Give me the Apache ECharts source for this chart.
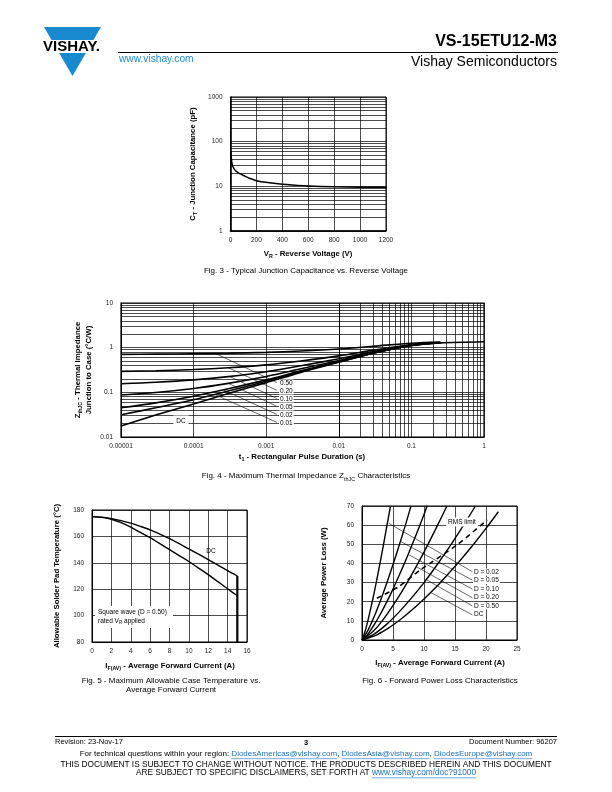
<!DOCTYPE html>
<html><head><meta charset="utf-8">
<style>html,body{margin:0;padding:0;background:#fff}#c{width:612px;height:792px}</style>
<script src="https://cdn.jsdelivr.net/npm/echarts@6/dist/echarts.min.js"></script>
</head><body><div id="c"></div>
<script>
// ---------------- DATA ----------------
// Fig. 3 - Junction capacitance vs reverse voltage
const fig3Voltage = [3, 5, 8, 12, 20, 30, 50, 75, 100, 150, 200, 300, 400, 500, 600, 800, 1000, 1200];
const fig3Capacitance = [62, 48, 38, 32, 27, 24, 21, 19, 17.5, 15, 13.4, 12, 11.1, 10.6, 10.2, 9.8, 9.6, 9.5];
const fig3XTicks = ['0', '200', '400', '600', '800', '1000', '1200'];
const fig3YTicks = ['1', '10', '100', '1000'];

// Fig. 4 - Thermal impedance
const fig4Time = [1e-5, 3e-5, 1e-4, 3e-4, 1e-3, 3e-3, 1e-2, 3e-2, 0.1, 0.25];
const fig4Z_050 = [0.709, 0.716, 0.728, 0.747, 0.783, 0.84, 0.935, 1.075, 1.26, 1.34];
const fig4Z_020 = [0.294, 0.305, 0.324, 0.355, 0.412, 0.504, 0.656, 0.88, 1.176, 1.304];
const fig4Z_010 = [0.156, 0.168, 0.19, 0.225, 0.289, 0.392, 0.563, 0.815, 1.148, 1.292];
const fig4Z_005 = [0.087, 0.099, 0.122, 0.159, 0.227, 0.336, 0.517, 0.783, 1.134, 1.286];
const fig4Z_002 = [0.045, 0.058, 0.082, 0.120, 0.190, 0.302, 0.489, 0.763, 1.126, 1.282];
const fig4Z_001 = [0.0315, 0.045, 0.068, 0.107, 0.177, 0.291, 0.479, 0.757, 1.123, 1.281];
const fig4TimeDC = [1e-5, 3e-5, 1e-4, 3e-4, 1e-3, 3e-3, 1e-2, 3e-2, 0.1, 0.25, 1];
const fig4Z_DC = [0.0177, 0.031, 0.055, 0.094, 0.165, 0.28, 0.47, 0.75, 1.12, 1.28, 1.36];
const fig4CurveLabels = ['0.50', '0.20', '0.10', '0.05', '0.02', '0.01'];
const fig4LeaderStart = [[2.0e-4, 0.74], [3.0e-4, 0.355], [3.1e-4, 0.228], [3.0e-4, 0.159], [2.6e-4, 0.113], [2.0e-4, 0.088]];
const fig4LeaderEnd = [[1.4e-3, 0.167], [1.4e-3, 0.111], [1.4e-3, 0.073], [1.4e-3, 0.0486], [1.4e-3, 0.032], [1.4e-3, 0.0213]];
const fig4XTicks = ['0.00001', '0.0001', '0.001', '0.01', '0.1', '1'];
const fig4YTicks = ['0.01', '0.1', '1', '10'];

// Fig. 5 - Allowable solder pad temperature
const fig5Current = [0, 1, 2, 3, 4, 5, 6, 7, 8, 9, 10, 11, 12, 13, 14, 15];
const fig5DC = [175, 174.6, 173.5, 172, 170, 167.6, 165, 161.8, 158.3, 154.5, 150.5, 146.5, 142.4, 138.2, 134, 130];
const fig5Square = [175, 174.4, 173, 170.5, 167, 163, 159, 154.5, 150, 145.5, 141, 136, 131, 125.7, 120.3, 115];
const fig5DropCurrent = [15, 15];
const fig5DropTemp = [130, 80];

// Fig. 6 - Forward power loss
const fig6I_002 = [0, 0.5, 1, 1.5, 2, 2.5, 3, 3.5, 4, 4.6];
const fig6P_002 = [0, 4.6, 10.8, 17.8, 25.3, 33.3, 41.7, 50.4, 59.4, 70];
const fig6I_005 = [0, 1, 2, 3, 4, 5, 6, 7, 7.9];
const fig6P_005 = [0, 5.3, 12.5, 20.8, 29.8, 39.4, 49.5, 60, 70];
const fig6I_010 = [0, 1, 2, 3, 4, 5, 6, 7, 8, 9, 10, 10.5];
const fig6P_010 = [0, 3.3, 8.1, 13.7, 19.9, 26.6, 33.8, 41.3, 49.1, 57.2, 65.6, 70];
const fig6I_020 = [0, 2, 4, 6, 8, 10, 12, 13.7];
const fig6P_020 = [0, 5.2, 13.3, 23, 34, 45.9, 58.7, 70];
const fig6I_050 = [0, 2, 4, 6, 8, 10, 12, 14, 16, 18.3];
const fig6P_050 = [0, 3.2, 8.3, 14.7, 22, 30, 38.8, 48.1, 58, 70];
const fig6I_DC = [0, 2, 4, 6, 8, 10, 12, 14, 16, 18, 20, 22];
const fig6P_DC = [0, 2.1, 5.7, 10.2, 15.5, 21.4, 27.8, 34.9, 42.2, 50, 58.3, 67];
const fig6RmsI = [2.4, 5.9, 9.4, 15.3, 20.2];
const fig6RmsP = [21.8, 27.8, 36.6, 49.6, 62.7];
const fig6CurveLabels = ['D = 0.02', 'D = 0.05', 'D = 0.10', 'D = 0.20', 'D = 0.50', 'DC'];
const fig6LeaderStart = [[4.3, 61], [6.2, 51.5], [7.5, 44.6], [8.75, 38.3], [10.4, 31.5], [11.1, 24.8]];
const fig6LeaderEnd = [[17.8, 35.7], [17.8, 31.3], [17.8, 26.6], [17.8, 22.1], [17.8, 17.8], [17.8, 13.1]];

// ---------------- CHART ----------------
const FONT = '"Liberation Sans", Arial, Helvetica, sans-serif';
const BLUE = '#1a8ad0';
const LINK = '#1a6fc4';
const chart = echarts.init(document.getElementById('c'), null, {renderer: 'canvas'});

function pairs(xs, ys) { return xs.map((x, i) => [x, ys[i]]); }
function logMinor(decades, key) {
  const out = [];
  decades.forEach(d => { for (let m = 2; m <= 9; m++) { const o = {}; o[key] = m * d; out.push(o); } });
  return out;
}
function gridLines(list) {
  return {silent: true, symbol: ['none', 'none'], animation: false, z: 1,
    label: {show: false}, emphasis: {disabled: true},
    lineStyle: {color: '#000', width: 0.7, type: 'solid', opacity: 1}, data: list};
}
function axis(gi, type, min, max, extra, labelOpt) {
  const a = {gridIndex: gi, type: type, min: min, max: max,
    axisTick: {show: false},
    axisLine: {show: true, onZero: false, lineStyle: {color: '#000', width: 1}},
    splitLine: {show: true, lineStyle: {color: '#000', width: 0.7}},
    axisLabel: Object.assign({fontFamily: FONT, fontSize: 6.5, color: '#222', margin: 6}, labelOpt || {})};
  if (type === 'log') a.logBase = 10;
  return Object.assign(a, extra || {});
}
function curve(xi, data, w, extra) {
  return Object.assign({type: 'line', xAxisIndex: xi, yAxisIndex: xi, data: data, showSymbol: false,
    symbol: 'none', z: 10, silent: true, animation: false,
    lineStyle: {color: '#000', width: w || 1.4}}, extra || {});
}
function leader(xi, a, b) {
  return {type: 'line', xAxisIndex: xi, yAxisIndex: xi, data: [a, b], showSymbol: false, symbol: 'none',
    z: 9, silent: true, animation: false, lineStyle: {color: '#000', width: 0.6}};
}
const logIdx = (v, off) => Math.round(Math.log10(v)) + off;

const series = [];
// Fig 3
series.push(curve(0, pairs(fig3Voltage, fig3Capacitance), 1.5,
  {smooth: 0.35, markLine: gridLines(logMinor([1, 10, 100], 'yAxis'))}));
// Fig 4
const f4 = [fig4Z_050, fig4Z_020, fig4Z_010, fig4Z_005, fig4Z_002, fig4Z_001];
f4.forEach((z, i) => {
  const ex = {smooth: 0.3};
  if (i === 0) ex.markLine = gridLines(logMinor([1e-5, 1e-4, 1e-3, 1e-2, 0.1], 'xAxis').concat(logMinor([0.01, 0.1, 1], 'yAxis')));
  series.push(curve(1, pairs(fig4Time, z), 1.6, ex));
});
series.push(curve(1, pairs(fig4TimeDC, fig4Z_DC), 1.6, {smooth: 0.3}));
fig4LeaderStart.forEach((s, i) => series.push(leader(1, s, fig4LeaderEnd[i])));
// Fig 5
series.push(curve(2, pairs(fig5Current, fig5DC), 1.4, {smooth: 0.3}));
series.push(curve(2, pairs(fig5Current, fig5Square), 1.4, {smooth: 0.3}));
series.push(curve(2, pairs(fig5DropCurrent, fig5DropTemp), 2.2));
// Fig 6
[[fig6I_002, fig6P_002], [fig6I_005, fig6P_005], [fig6I_010, fig6P_010], [fig6I_020, fig6P_020],
 [fig6I_050, fig6P_050], [fig6I_DC, fig6P_DC]].forEach(c => series.push(curve(3, pairs(c[0], c[1]), 1.4, {smooth: 0.3})));
series.push(curve(3, pairs(fig6RmsI, fig6RmsP), 1.6, {smooth: 0.2, lineStyle: {color: '#000', width: 1.6, type: [5, 4]}}));
fig6LeaderStart.forEach((s, i) => series.push(leader(3, s, fig6LeaderEnd[i])));

// ---------------- GRAPHICS (text, logo, lines) ----------------
const G = [];
function T(x, y, text, o) {
  o = o || {};
  const st = {text: text, x: 0, y: 0, fill: o.fill || '#000',
    font: (o.weight || 'normal') + ' ' + (o.size || 7) + 'px ' + FONT,
    fontFamily: FONT, fontSize: o.size || 7, fontWeight: o.weight || 'normal',
    align: o.align || 'center', verticalAlign: o.valign || 'middle',
    textAlign: o.align || 'center', textVerticalAlign: o.valign || 'middle'};
  if (o.rich) st.rich = o.rich;
  if (o.bg) { st.backgroundColor = o.bg; st.padding = o.pad || [1, 2]; }
  if (o.lineHeight) st.lineHeight = o.lineHeight;
  G.push({type: 'text', x: x, y: y, rotation: o.rot || 0, z: o.z || 100, silent: true, style: st});
}
function L(x1, y1, x2, y2, w, c) {
  G.push({type: 'line', z: 100, silent: true, shape: {x1: x1, y1: y1, x2: x2, y2: y2}, style: {stroke: c || '#000', lineWidth: w || 1}});
}
function subRich(size, weight) {
  return {
    b: {fontFamily: FONT, fontSize: size, fontWeight: weight, lineHeight: size + 3, verticalAlign: 'middle'},
    s: {fontFamily: FONT, fontSize: size * 0.68, fontWeight: weight, lineHeight: size + 3, verticalAlign: 'bottom'}
  };
}

// Logo
G.push({type: 'polygon', z: 90, silent: true, shape: {points: [[44, 27], [101, 27], [72.5, 76]]}, style: {fill: BLUE}});
G.push({type: 'rect', z: 91, silent: true, shape: {x: 38, y: 40, width: 68, height: 13}, style: {fill: '#fff'}});
T(71.5, 46.8, 'VISHAY.', {size: 15, weight: 'bold', z: 95});
// Header
T(557, 42, 'VS-15ETU12-M3', {size: 16, weight: 'bold', align: 'right'});
L(118, 52.5, 558, 52.5, 1);
T(119, 59, 'www.vishay.com', {size: 10.2, align: 'left', fill: BLUE});
T(557, 62, 'Vishay Semiconductors', {size: 14, align: 'right'});

// Fig 3 titles
const r8 = subRich(7.8, 'bold');
T(193, 164, '{b|C}{s|T}{b| - Junction Capacitance (pF)}', {rot: Math.PI / 2, rich: r8});
T(308, 254, '{b|V}{s|R}{b| - Reverse Voltage (V)}', {rich: r8});
T(306, 271, 'Fig. 3 - Typical Junction Capacitance vs. Reverse Voltage', {size: 8});
// Fig 4 titles
T(78, 370, '{b|Z}{s|thJC}{b| - Thermal Impedance}', {rot: Math.PI / 2, rich: r8});
T(88.5, 370, 'Junction to Case (°C/W)', {rot: Math.PI / 2, size: 7.8, weight: 'bold'});
T(302, 457, '{b|t}{s|1}{b| - Rectangular Pulse Duration (s)}', {rich: r8});
T(306, 476, '{b|Fig. 4 - Maximum Thermal Impedance Z}{s|thJC}{b| Characteristics}', {rich: subRich(8, 'normal')});
fig4CurveLabels.forEach((t, i) => T(279, 383 + 8 * i, t, {size: 6.5, align: 'left', bg: '#fff', pad: [0, 1]}));
T(181, 421, 'DC', {size: 6.5, bg: '#fff', pad: [2, 3]});
// Fig 5 titles
T(57, 576, 'Allowable Solder Pad Temperature (°C)', {rot: Math.PI / 2, size: 7.8, weight: 'bold'});
T(170, 666, '{b|I}{s|F(AV)}{b| - Average Forward Current (A)}', {rich: r8});
T(171, 681, 'Fig. 5 - Maximum Allowable Case Temperature vs.', {size: 8});
T(171, 690, 'Average Forward Current', {size: 8});
T(211, 551, 'DC', {size: 6.5});
G.push({type: 'rect', z: 99, silent: true, shape: {x: 95, y: 606, width: 78, height: 22}, style: {fill: '#fff'}});
T(98, 612, 'Square wave (D = 0.50)', {size: 6.5, align: 'left'});
T(98, 621, '{n|rated V}{s|R}{n| applied}', {align: 'left', rich: {
  n: {fontFamily: FONT, fontSize: 6.5, lineHeight: 9, verticalAlign: 'middle'},
  s: {fontFamily: FONT, fontSize: 4.5, lineHeight: 9, verticalAlign: 'bottom'}}});
// Fig 6 titles
T(324, 573, 'Average Power Loss (W)', {rot: Math.PI / 2, size: 7.8, weight: 'bold'});
T(440, 663, '{b|I}{s|F(AV)}{b| - Average Forward Current (A)}', {rich: r8});
T(440, 681, 'Fig. 6 - Forward Power Loss Characteristics', {size: 8});
fig6CurveLabels.forEach((t, i) => T(473, 572 + 8.5 * i, t, {size: 6.5, align: 'left', bg: '#fff', pad: [0, 1]}));
T(462, 522, 'RMS limit', {size: 6.5, bg: '#fff', pad: [1, 2]});

// Footer
L(55, 736.5, 557, 736.5, 1);
T(55, 742, 'Revision: 23-Nov-17', {size: 7.5, align: 'left'});
T(306, 743, '3', {size: 7.5, weight: 'bold'});
T(557, 742, 'Document Number: 96207', {size: 7.5, align: 'right'});
const FS2 = 8, FS3 = 8.3;
const cv = document.createElement('canvas').getContext('2d');
const w = (s, fs) => { cv.font = fs + 'px ' + FONT; return cv.measureText(s).width; };
const f2 = ['For technical questions within your region: ', 'DiodesAmericas@vishay.com', ', ', 'DiodesAsia@vishay.com', ', ', 'DiodesEurope@vishay.com'];
const f2w = f2.reduce((a, s) => a + w(s, FS2), 0);
let fx = 306 - f2w / 2;
const richFor = fs => ({n: {fontFamily: FONT, fontSize: fs, fill: '#000', color: '#000'}, l: {fontFamily: FONT, fontSize: fs, fill: LINK, color: LINK}});
T(306, 754, f2.map((s, i) => (i % 2 ? '{l|' : '{n|') + s + '}').join(''), {rich: richFor(FS2)});
f2.forEach((s, i) => { const ww = w(s, FS2); if (i % 2) L(fx, 758.7, fx + ww, 758.7, 0.6, LINK); fx += ww; });
T(306, 765, 'THIS DOCUMENT IS SUBJECT TO CHANGE WITHOUT NOTICE. THE PRODUCTS DESCRIBED HEREIN AND THIS DOCUMENT', {size: FS3});
const f4a = 'ARE SUBJECT TO SPECIFIC DISCLAIMERS, SET FORTH AT ', f4b = 'www.vishay.com/doc?91000';
const f4w = w(f4a, FS3) + w(f4b, FS3);
T(306, 773, '{n|' + f4a + '}{l|' + f4b + '}', {rich: richFor(FS3)});
L(306 - f4w / 2 + w(f4a, FS3), 777.8, 306 + f4w / 2, 777.8, 0.6, LINK);

const option = {
  animation: false,
  backgroundColor: '#fff',
  grid: [
    {left: 230.5, top: 97, width: 155.5, height: 134, show: true, borderColor: '#000', borderWidth: 1},
    {left: 121, top: 303, width: 363, height: 134, show: true, borderColor: '#000', borderWidth: 1.2},
    {left: 92, top: 510, width: 155, height: 132, show: true, borderColor: '#000', borderWidth: 1},
    {left: 362, top: 506, width: 155, height: 134, show: true, borderColor: '#000', borderWidth: 1}
  ],
  xAxis: [
    axis(0, 'value', 0, 1200, {interval: 200, axisLine: {show: true, onZero: false, lineStyle: {color: '#000', width: 1.6}}},
      {formatter: v => fig3XTicks[Math.round(v / 200)]}),
    axis(1, 'log', 1e-5, 1, {}, {formatter: v => fig4XTicks[logIdx(v, 5)]}),
    axis(2, 'value', 0, 16, {interval: 2}),
    axis(3, 'value', 0, 25, {interval: 5})
  ],
  yAxis: [
    axis(0, 'log', 1, 1000, {axisLine: {show: true, onZero: false, lineStyle: {color: '#000', width: 1.6}}},
      {formatter: v => fig3YTicks[logIdx(v, 0)], margin: 8}),
    axis(1, 'log', 0.01, 10, {}, {formatter: v => fig4YTicks[logIdx(v, 2)], margin: 8}),
    axis(2, 'value', 80, 180, {interval: 20}, {margin: 8}),
    axis(3, 'value', 0, 70, {interval: 10}, {margin: 8})
  ],
  series: series,
  graphic: {elements: G}
};
chart.setOption(option);
</script></body></html>
